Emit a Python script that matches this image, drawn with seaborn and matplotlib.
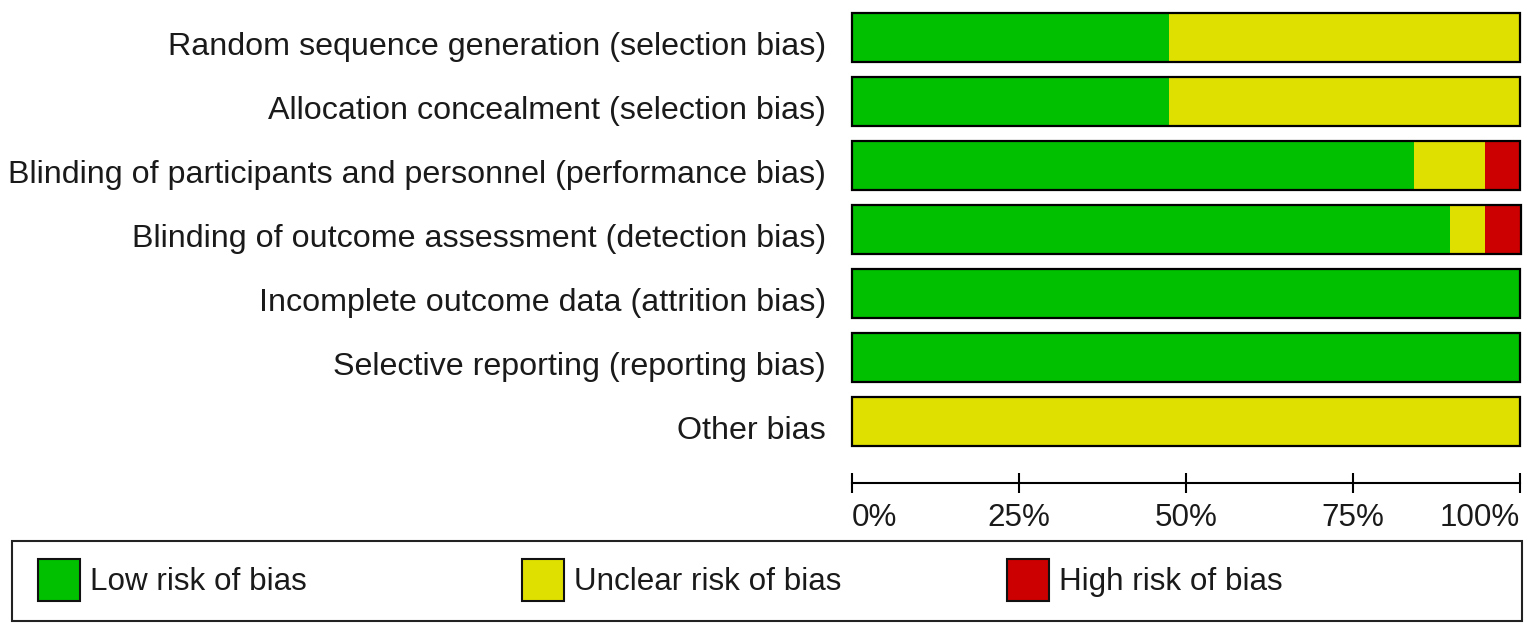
import matplotlib
matplotlib.use('Agg')
import matplotlib.pyplot as plt
from matplotlib.patches import Rectangle
import pandas as pd
import seaborn as sns

# risk of bias per domain, % of studies (19 studies)
domains = [
    'Random sequence generation (selection bias)',
    'Allocation concealment (selection bias)',
    'Blinding of participants and personnel (performance bias)',
    'Blinding of outcome assessment (detection bias)',
    'Incomplete outcome data (attrition bias)',
    'Selective reporting (reporting bias)',
    'Other bias',
]
low = [47.4, 47.4, 84.2, 89.5, 100, 100, 0]
unclear = [52.6, 52.6, 10.5, 5.3, 0, 0, 100]
high = [0, 0, 5.3, 5.3, 0, 0, 0]
ticks = [0, 25, 50, 75, 100]
tick_labels = ['0%', '25%', '50%', '75%', '100%']
legend_labels = ['Low risk of bias', 'Unclear risk of bias', 'High risk of bias']

GREEN, YELLOW, RED = '#00C000', '#E0E000', '#CC0000'
TXT = '#1a1a1a'

df = pd.DataFrame({'domain': domains, 'low': low, 'unclear': unclear, 'high': high})
df['c_unclear'] = df['low'] + df['unclear']
df['c_high'] = df['c_unclear'] + df['high']

sns.set_style('white')
plt.rcParams['font.family'] = ['Liberation Sans', 'DejaVu Sans']
FS = 22.6

W, H = 1535, 632
fig = plt.figure(figsize=(W / 100, H / 100), dpi=100)
ax = fig.add_axes([852 / W, (H - 453.5) / H, (1520 - 852) / W, 448 / H])

bw = 49 / 64
sns.barplot(data=df, y='domain', x='c_high', color=RED, width=bw, saturation=1,
            linewidth=0, ax=ax)
sns.barplot(data=df, y='domain', x='c_unclear', color=YELLOW, width=bw, saturation=1,
            linewidth=0, ax=ax)
sns.barplot(data=df, y='domain', x='low', color=GREEN, width=bw, saturation=1,
            linewidth=0, ax=ax)
# outline around each whole bar
sns.barplot(data=df, y='domain', x='c_high', fill=False, edgecolor='black', width=bw,
            linewidth=1.6, ax=ax)
for p in ax.patches:
    p.set_clip_on(False)

ax.set_xlim(0, 100)
ax.set_ylim(len(domains) - 0.5, -0.5)
ax.set_xlabel('')
ax.set_ylabel('')
for s in ['left', 'top', 'right']:
    ax.spines[s].set_visible(False)
ax.spines['bottom'].set_position(('outward', 21.2))
ax.spines['bottom'].set_linewidth(1.5)
ax.spines['bottom'].set_color('black')
ax.set_xticks(ticks)
ax.set_xticklabels(tick_labels)
ax.tick_params(axis='x', bottom=True, direction='inout', length=14.4, width=1.5,
               color='black', pad=7, labelsize=FS, labelcolor=TXT)
xl = ax.get_xticklabels()
xl[0].set_ha('left')
xl[-1].set_ha('right')

# domain labels, sitting a little below the bar centre as in the original
ax.set_yticks([])
for i, lab in enumerate(domains):
    ax.annotate(lab, xy=(0, i), xycoords=('axes fraction', 'data'),
                xytext=(-18.7, -6.5), textcoords='offset points',
                ha='right', va='center', fontsize=23.2, color=TXT)

# legend box
lax = fig.add_axes([0, 0, 1, 1], zorder=-1)
lax.set_xlim(0, W)
lax.set_ylim(H, 0)
lax.axis('off')
lax.add_patch(Rectangle((12, 541), 1510, 80, fill=False, edgecolor='#222222', lw=1.5))
for x0, col, lab in zip([38, 522, 1007], [GREEN, YELLOW, RED], legend_labels):
    lax.add_patch(Rectangle((x0, 559), 42, 42, facecolor=col, edgecolor='#111111', lw=1.5))
    lax.text(x0 + 52, 582, lab, fontsize=FS, va='center', ha='left', color=TXT)

fig.savefig('out.png', dpi=100)
